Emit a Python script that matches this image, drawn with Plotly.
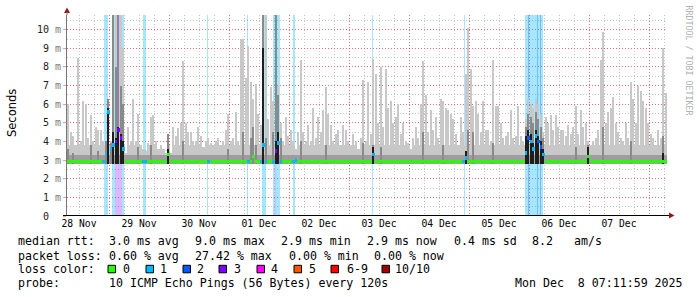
import plotly.graph_objects as go
from datetime import datetime, timedelta

# ---------------- data ----------------
START = datetime(2025, 11, 28, 7, 12)
END = datetime(2025, 12, 8, 7, 12)
RTT_FLOOR = 2.8          # lowest ping seen (ms)
Y_TOP = 10.79            # upper plot limit (ms)
TYPICAL_HIGH = 3.8       # typical upper edge of the smoke between spikes (ms)
TYPICAL_MID = 3.25       # typical upper edge of the inner (darker) smoke (ms)

# hourly maximum ping (ms), 240 hours starting at START
smoke_max = [
    6.0, 4.5, 4.3, 3.8, 8.5, 4.0, 6.2, 6.0, 4.2, 5.4,
    4.0, 4.8, 4.6, 4.6, 4.0, 4.0, 6.3, 4.0, 10.8, 10.8,
    10.8, 10.8, 9.0, 3.4, 4.8, 4.0, 6.3, 4.0, 5.5, 3.8,
    3.6, 3.5, 3.9, 5.3, 5.4, 4.0, 3.6, 3.8, 3.6, 3.4,
    4.4, 3.4, 4.8, 4.3, 4.7, 5.0, 8.3, 5.0, 4.5, 4.5,
    4.0, 4.0, 4.8, 4.3, 3.7, 4.0, 4.2, 3.9, 3.8, 4.0,
    4.2, 3.8, 4.0, 4.6, 5.5, 4.0, 4.2, 5.6, 4.0, 9.5,
    9.5, 7.4, 9.1, 7.2, 6.3, 7.1, 5.5, 4.9, 10.8, 10.8,
    5.2, 6.9, 6.2, 10.8, 7.0, 5.0, 4.0, 5.3, 4.3, 4.6,
    4.0, 3.6, 4.5, 8.4, 4.5, 4.0, 4.9, 4.0, 5.8, 4.2,
    5.3, 4.5, 5.7, 6.9, 5.5, 4.9, 4.0, 4.4, 4.6, 3.8,
    4.9, 4.6, 4.0, 3.8, 4.4, 4.0, 3.6, 4.2, 7.3, 4.0,
    7.2, 4.4, 8.45, 7.6, 5.0, 8.0, 4.8, 7.9, 5.8, 6.2,
    5.0, 5.3, 6.0, 4.4, 5.0, 4.0, 3.9, 3.6, 4.2, 4.8,
    4.2, 6.0, 8.3, 6.5, 4.5, 5.7, 4.6, 5.3, 4.2, 6.3,
    6.2, 5.8, 5.7, 5.5, 5.2, 4.4, 3.8, 5.3, 4.5, 7.6,
    10.1, 7.9, 5.9, 6.2, 5.5, 4.5, 6.2, 4.6, 4.6, 4.0,
    8.35, 5.9, 5.9, 5.0, 4.2, 4.3, 4.5, 5.7, 4.2, 4.3,
    5.9, 4.3, 4.0, 5.2, 6.3, 6.0, 5.8, 6.3, 6.0, 5.5,
    4.5, 5.3, 5.0, 5.4, 4.6, 5.4, 4.8, 4.6, 4.6, 4.3,
    4.9, 4.4, 4.8, 5.9, 4.4, 5.7, 4.8, 5.0, 4.0, 3.8,
    4.0, 4.2, 4.6, 8.4, 9.9, 5.0, 5.6, 5.8, 6.4, 5.0,
    4.5, 4.2, 4.0, 5.0, 4.2, 7.2, 6.3, 5.0, 7.0, 6.7,
    6.2, 5.8, 5.0, 4.4, 4.2, 3.8, 4.6, 4.2, 9.0, 6.6,
]

# darker smoke (inner pings) where visible
mid_hours = [0, 2, 9, 12, 15, 16, 17, 18, 19, 20,
             21, 22, 28, 33, 40, 46, 64, 70, 73, 74,
             75, 78, 79, 82, 83, 84, 85, 93, 103, 118,
             122, 125, 142, 150, 160, 162, 170, 183, 184, 185,
             186, 187, 188, 189, 190, 203, 208, 214, 225, 238]
mid_tops = [3.6, 3.4, 3.8, 3.5, 4.0, 6.3, 3.9, 10.8, 8.0, 10.8,
            7.0, 6.0, 3.7, 3.8, 4.4, 4.0, 3.6, 4.5, 4.2, 4.8,
            3.8, 10.8, 4.2, 4.5, 10.8, 6.5, 4.2, 4.0, 3.8, 3.9,
            3.8, 3.7, 4.5, 3.8, 4.6, 4.5, 3.9, 4.8, 5.5, 5.3,
            5.0, 5.6, 5.2, 4.8, 4.2, 3.7, 3.8, 4.8, 4.0, 4.3]

dark_hours = [16, 18, 19, 20, 21, 22, 40, 78, 83, 84,
              122, 159, 183, 184, 185, 186, 187, 188, 189, 190,
              208, 238]
dark_tops = [5.8, 4.5, 4.2, 4.8, 4.4, 4.0, 3.6, 9.0, 4.0, 4.5,
             3.7, 3.5, 4.3, 4.6, 4.4, 3.9, 4.6, 4.3, 4.0, 3.6,
             3.7, 3.4]

# median rtt
median_base = 2.93
med_hours = [15, 16, 17, 18, 19, 20, 21, 22, 40, 74, 78, 83, 84, 91,
             122, 159, 183, 184, 185, 186, 187, 188, 189, 190, 208]
med_vals = [3.3, 5.6, 3.6, 3.8, 4.0, 4.6, 4.2, 3.6, 3.3, 3.2, 3.8, 3.5, 3.9, 3.0,
            3.3, 3.1, 3.4, 4.2, 4.0, 3.6, 4.3, 4.0, 3.7, 3.3, 3.2]

# packet loss events (hours after START, lost pings out of 10)
loss_start = [14.8, 17.9, 19.0, 22.0, 30.5, 56.0, 72.0, 77.9, 82.5, 83.3, 83.7,
              90.3, 122.0, 158.9, 183.2, 184.4, 188.0, 189.1]
loss_end = [16.4, 19.0, 22.0, 22.9, 31.7, 56.4, 72.4, 79.6, 83.3, 83.7, 85.2,
            91.2, 122.4, 159.3, 190.3, 184.8, 188.3, 189.4]
loss_level = [1, 1, 3, 1, 1, 1, 1, 1, 1, 3, 1,
              1, 1, 1, 1, 2, 2, 2]

day_labels = ["28 Nov", "29 Nov", "30 Nov", "01 Dec", "02 Dec",
              "03 Dec", "04 Dec", "05 Dec", "06 Dec", "07 Dec"]
y_ticks = [0, 1, 2, 3, 4, 5, 6, 7, 8, 9, 10]

loss_names = ["0", "1", "2", "3", "4", "5", "6-9", "10/10"]
loss_colors = ["#26ff00", "#00b8ff", "#0059ff", "#7e00ff", "#ff00ff",
               "#ff5500", "#ff0000", "#a00000"]
loss_shade = {1: "rgba(0,184,255,0.35)", 2: "rgba(0,89,255,0.30)",
              3: "rgba(126,0,255,0.28)"}

# legend text pieces and their left edges (px)
rtt_parts = ["median rtt:", "3.0 ms avg", "9.0 ms max", "2.9 ms min",
             "2.9 ms now", "0.4 ms sd", "8.2", "am/s"]
rtt_x = [16, 107, 193, 279, 365, 451.5, 530, 571.5]
loss_parts = ["packet loss:", "0.60 % avg", "27.42 % max", "0.00 % min", "0.00 % now"]
loss_x = [16, 107, 193, 286.5, 372.3]
probe_parts = ["probe:", "10 ICMP Echo Pings (56 Bytes) every 120s",
               "Mon Dec  8 07:11:59 2025"]
probe_x = [16, 107, 513]

# ---------------- build figure ----------------
HOUR_MS = 3600 * 1000
L, R, T, B = 67, 667, 15, 216
W, H = 697, 297


def px(x):
    return (x - L) / (R - L)


def py(y):
    return (B - y) / (B - T)


def at(h):
    return START + timedelta(hours=h)


def nb(s):
    return s.replace(" ", "\u00a0")


fig = go.Figure()

# loss background bands
fig.add_trace(go.Bar(
    x=[at((s + e) / 2) for s, e in zip(loss_start, loss_end)],
    y=[Y_TOP + 1] * len(loss_start), base=0,
    width=[(e - s) * HOUR_MS for s, e in zip(loss_start, loss_end)],
    marker=dict(color=[loss_shade[l] for l in loss_level], line=dict(width=0)),
    hoverinfo="skip"))

hours = list(range(len(smoke_max)))
hx = [at(h + 0.5) for h in hours]
LIGHT = "#c8c8c8"
# light smoke: continuous lower part + thin spikes
fig.add_trace(go.Bar(
    x=hx, y=[min(m, TYPICAL_HIGH) - RTT_FLOOR for m in smoke_max], base=RTT_FLOOR,
    width=HOUR_MS, marker=dict(color=LIGHT, line=dict(width=0)), hoverinfo="skip"))
fig.add_trace(go.Bar(
    x=hx, y=[m - RTT_FLOOR for m in smoke_max], base=RTT_FLOOR,
    width=HOUR_MS * 0.55, marker=dict(color=LIGHT, line=dict(width=0)),
    hoverinfo="skip"))
# inner smoke
fig.add_trace(go.Bar(
    x=hx, y=[min(m, TYPICAL_MID) - RTT_FLOOR for m in smoke_max], base=RTT_FLOOR,
    width=HOUR_MS, marker=dict(color="#9e9e9e", line=dict(width=0)),
    hoverinfo="skip"))
fig.add_trace(go.Bar(
    x=[at(h + 0.5) for h in mid_hours],
    y=[m - RTT_FLOOR for m in mid_tops], base=RTT_FLOOR,
    width=HOUR_MS * 0.6,
    marker=dict(color="#8a8a8a", line=dict(width=0)), hoverinfo="skip"))
fig.add_trace(go.Bar(
    x=[at(h + 0.5) for h in dark_hours],
    y=[m - RTT_FLOOR for m in dark_tops], base=RTT_FLOOR,
    width=HOUR_MS * 0.45,
    marker=dict(color="#1e1e1e", line=dict(width=0)), hoverinfo="skip"))

# median line coloured by loss
med = {h: median_base for h in hours}
med.update(dict(zip(med_hours, med_vals)))
hour_loss = []
for h in hours:
    lv = 0
    for s, e, l in zip(loss_start, loss_end, loss_level):
        if s < h + 1 and e > h:
            lv = max(lv, l)
    hour_loss.append(lv)
fig.add_trace(go.Bar(
    x=hx, y=[0.2] * len(hours), base=[med[h] - 0.1 for h in hours],
    width=HOUR_MS,
    marker=dict(color=[loss_colors[l] for l in hour_loss], line=dict(width=0)),
    hoverinfo="skip"))

# invisible trace so the midnight grid axis is drawn
fig.add_trace(go.Scatter(x=[START, END], y=[0, 0], xaxis="x2", mode="markers",
                         marker=dict(opacity=0), hoverinfo="skip"))

MAJ = "rgba(255,0,0,0.42)"
MIN = "#c4c4c4"
DOT = "1px,2px"
fig.update_layout(
    width=W, height=H, margin=dict(l=L, r=W - R, t=T, b=H - B),
    paper_bgcolor="white", plot_bgcolor="white",
    showlegend=False, barmode="overlay", bargap=0,
    xaxis=dict(type="date", range=[START, END],
               tickvals=[datetime(2025, 11, 28, 12) + timedelta(days=i)
                         for i in range(len(day_labels))],
               ticktext=day_labels, ticks="",
               tickfont=dict(family="DejaVu Sans Mono", size=9.7, color="black"),
               showgrid=True, gridcolor=MIN, griddash=DOT, gridwidth=1,
               minor=dict(dtick=6 * HOUR_MS, tick0="2025-11-29",
                          showgrid=True, gridcolor=MIN, griddash=DOT),
               showline=False, zeroline=False),
    xaxis2=dict(type="date", range=[START, END], overlaying="x", anchor="y",
                side="bottom", showticklabels=False, ticks="",
                tick0="2025-11-29", dtick=86400000,
                showgrid=True, gridcolor=MAJ, griddash=DOT, gridwidth=1,
                showline=False, zeroline=False),
    yaxis=dict(range=[0, Y_TOP], tickvals=y_ticks,
               ticktext=[nb("0  ")] + [f'{v}\u00a0<span style="color:#7a7a7a">m</span>'
                                      for v in y_ticks[1:]],
               tickfont=dict(family="DejaVu Sans Mono", size=10, color="#222"),
               showgrid=True, gridcolor=MAJ, griddash=DOT,
               minor=dict(dtick=0.5, showgrid=True, gridcolor=MIN, griddash=DOT),
               ticks="outside", ticklen=3, tickcolor=MAJ,
               showline=True, linecolor="#777", linewidth=1, zeroline=False),
)

ann = []
mono = dict(family="DejaVu Sans Mono", size=11.6, color="black")


def text_at(txt, x, y):
    ann.append(dict(x=px(x), y=py(y), xref="paper", yref="paper",
                    text=nb(txt), showarrow=False, xanchor="left",
                    yanchor="middle", font=mono))


for t, x in zip(rtt_parts, rtt_x):
    text_at(t, x, 241)
for t, x in zip(loss_parts, loss_x):
    text_at(t, x, 255.5)
text_at("loss color:", 16, 269.3)
for t, x in zip(probe_parts, probe_x):
    text_at(t, x, 283.3)

box_x = [108, 146, 183, 219, 257, 294, 331, 382]
text_x = [121, 158, 195, 232, 269, 307, 345, 393]
shapes = []
for name, col, bx, tx in zip(loss_names, loss_colors, box_x, text_x):
    shapes.append(dict(type="rect", xref="paper", yref="paper",
                       x0=px(bx), x1=px(bx + 7.5), y0=py(272.8), y1=py(265.3),
                       fillcolor=col, line=dict(color="black", width=1)))
    text_at(name, tx, 269.3)

ann.append(dict(x=px(12), y=py(113), xref="paper", yref="paper",
                xanchor="center", yanchor="middle",
                text="Seconds", textangle=-90, showarrow=False,
                font=dict(family="DejaVu Sans", size=11.5, color="black")))
ann.append(dict(x=px(688.5), y=py(60), xref="paper", yref="paper",
                xanchor="center", yanchor="middle",
                text=nb("RRDTOOL / TOBI OETIKER"), textangle=90, showarrow=False,
                font=dict(family="DejaVu Sans Mono", size=8.3, color="#b0b0b0")))

arrow = "#8c1c1c"
shapes.append(dict(type="path", xref="paper", yref="paper",
                   path=f"M {px(64)} {py(13)} L {px(70)} {py(13)} L {px(67)} {py(7.5)} Z",
                   fillcolor=arrow, line=dict(width=0)))
shapes.append(dict(type="line", xref="paper", yref="paper",
                   x0=px(67), x1=px(67), y0=py(15), y1=py(12),
                   line=dict(color="#777", width=1)))
shapes.append(dict(type="path", xref="paper", yref="paper",
                   path=f"M {px(669)} {py(212.5)} L {px(669)} {py(218.5)} L {px(674.5)} {py(215.5)} Z",
                   fillcolor=arrow, line=dict(width=0)))
shapes.append(dict(type="line", xref="paper", yref="paper",
                   x0=px(63), x1=px(669), y0=py(215.5), y1=py(215.5),
                   line=dict(color="black", width=1)))
fig.update_layout(annotations=ann, shapes=shapes)

fig.write_html("out.html")
